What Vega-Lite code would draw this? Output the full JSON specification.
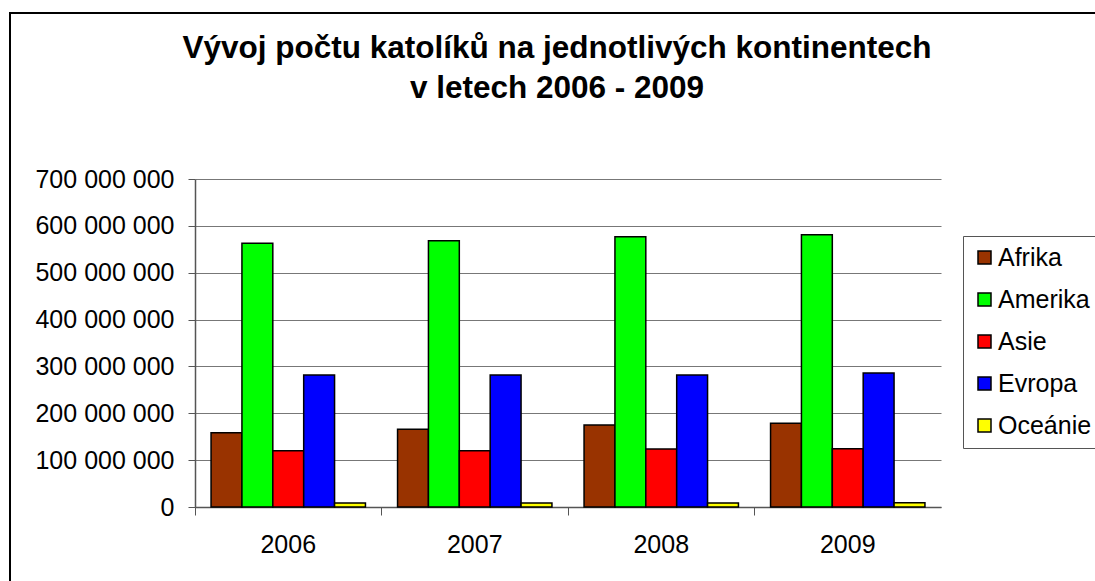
{
  "$schema": "https://vega.github.io/schema/vega-lite/v6.json",
  "width": 1090,
  "height": 572,
  "autosize": {"type": "none"},
  "padding": {"left": 10, "top": 13, "right": 0, "bottom": 0},
  "background": "white",
  "title": {
    "text": ["Vývoj počtu katolíků na jednotlivých kontinentech", "v letech 2006 - 2009"],
    "font": "Liberation Sans",
    "fontSize": 31.5,
    "fontWeight": "bold",
    "lineHeight": 40,
    "color": "black",
    "anchor": "middle",
    "frame": "group",
    "dx": 2,
    "offset": -91
  },
  "data": {
    "values": [
      {"rok": "2006", "kontinent": "Afrika", "pocet": 158300000},
      {"rok": "2006", "kontinent": "Amerika", "pocet": 563000000},
      {"rok": "2006", "kontinent": "Asie", "pocet": 119800000},
      {"rok": "2006", "kontinent": "Evropa", "pocet": 281500000},
      {"rok": "2006", "kontinent": "Oceánie", "pocet": 8600000},
      {"rok": "2007", "kontinent": "Afrika", "pocet": 166000000},
      {"rok": "2007", "kontinent": "Amerika", "pocet": 568000000},
      {"rok": "2007", "kontinent": "Asie", "pocet": 120000000},
      {"rok": "2007", "kontinent": "Evropa", "pocet": 281500000},
      {"rok": "2007", "kontinent": "Oceánie", "pocet": 8700000},
      {"rok": "2008", "kontinent": "Afrika", "pocet": 175000000},
      {"rok": "2008", "kontinent": "Amerika", "pocet": 577000000},
      {"rok": "2008", "kontinent": "Asie", "pocet": 124000000},
      {"rok": "2008", "kontinent": "Evropa", "pocet": 281500000},
      {"rok": "2008", "kontinent": "Oceánie", "pocet": 8800000},
      {"rok": "2009", "kontinent": "Afrika", "pocet": 179000000},
      {"rok": "2009", "kontinent": "Amerika", "pocet": 581000000},
      {"rok": "2009", "kontinent": "Asie", "pocet": 124500000},
      {"rok": "2009", "kontinent": "Evropa", "pocet": 286000000},
      {"rok": "2009", "kontinent": "Oceánie", "pocet": 8900000}
    ]
  },
  "mark": {"type": "bar", "stroke": "black", "strokeWidth": 1.5},
  "encoding": {
    "x": {
      "field": "rok",
      "type": "nominal",
      "scale": {"paddingInner": 0, "paddingOuter": 0, "range": [185, 931]},
      "axis": {
        "title": null,
        "labelAngle": 0,
        "bandPosition": 0,
        "offset": -78,
        "labelFont": "Liberation Sans",
        "labelFontSize": 25,
        "labelColor": "black",
        "labelPadding": 17,
        "tickSize": 8,
        "tickColor": "#555",
        "domainColor": "#555",
        "grid": false
      }
    },
    "xOffset": {
      "field": "kontinent",
      "type": "nominal",
      "scale": {"paddingInner": 0, "paddingOuter": 0.52}
    },
    "y": {
      "field": "pocet",
      "type": "quantitative",
      "scale": {"domain": [0, 700000000], "nice": false, "range": [494, 166]},
      "axis": {
        "title": null,
        "offset": -185,
        "values": [0, 100000000, 200000000, 300000000, 400000000, 500000000, 600000000, 700000000],
        "labelExpr": "replace(format(datum.value, ','), /,/g, ' ')",
        "labelFont": "Liberation Sans",
        "labelFontSize": 25,
        "labelColor": "black",
        "labelPadding": 14,
        "tickSize": 7,
        "tickColor": "#555",
        "domainColor": "#555",
        "gridColor": "#777",
        "gridWidth": 1
      }
    },
    "color": {
      "field": "kontinent",
      "type": "nominal",
      "scale": {
        "domain": ["Afrika", "Amerika", "Asie", "Evropa", "Oceánie"],
        "range": ["#993300", "#00FF00", "#FF0000", "#0000FF", "#FFFF00"]
      },
      "legend": {
        "title": null,
        "orient": "none",
        "legendX": 953,
        "legendY": 223,
        "strokeColor": "#555",
        "padding": 9,
        "symbolType": "square",
        "symbolSize": 169,
        "symbolStrokeColor": "black",
        "symbolStrokeWidth": 1.5,
        "labelFont": "Liberation Sans",
        "labelFontSize": 25,
        "labelColor": "black",
        "labelOffset": 1,
        "rowPadding": 16,
        "fillColor": "white"
      }
    }
  },
  "config": {
    "view": {"stroke": "black", "strokeWidth": 2},
    "axis": {"domainWidth": 1.5}
  }
}
